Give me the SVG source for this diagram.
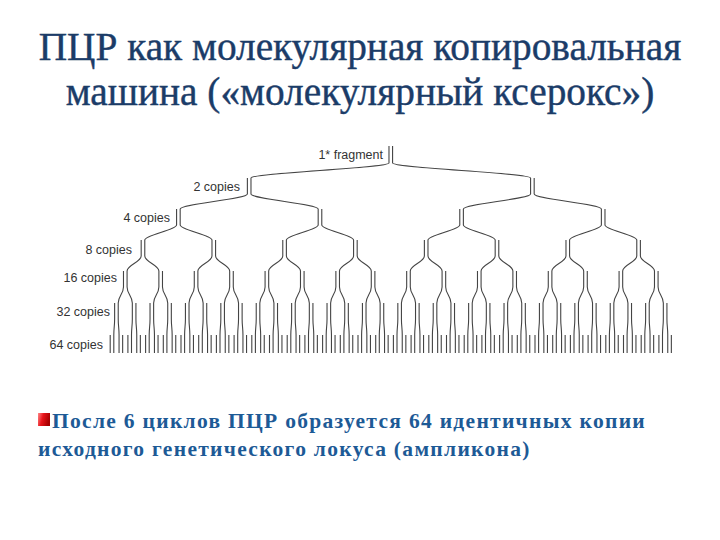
<svg xmlns="http://www.w3.org/2000/svg" xmlns:xlink="http://www.w3.org/1999/xlink" width="720" height="540" viewBox="0 0 720 540">
<style>
.t{font-family:"Liberation Serif","Times New Roman",serif;fill:#1b3c68;stroke:#1b3c68;stroke-width:0.4;font-size:39.3px;text-anchor:middle}
.lb{font-family:"Liberation Sans",Arial,sans-serif;fill:#333;font-size:12.5px;text-anchor:end}
.bt{font-family:"Liberation Serif","Times New Roman",serif;fill:#1d5a96;font-size:21.5px;font-weight:bold;letter-spacing:1.3px}
.s{fill:none;stroke:#444;stroke-width:1.1}
</style>
<defs>
<linearGradient id="bul" x1="0" y1="0" x2="1" y2="0.3">
<stop offset="0" stop-color="#ff8a8a"/><stop offset="0.45" stop-color="#e8141b"/><stop offset="1" stop-color="#a80000"/>
</linearGradient>
<path id="b0" class="s" d="M-1.8 146V163M1.8 146V163"/>
<path id="b1" class="s" d="M-1.8 178V194M1.8 178V194"/>
<path id="b2" class="s" d="M-1.8 209V225M1.8 209V225"/>
<path id="b3" class="s" d="M-1.8 240V256M1.8 240V256"/>
<path id="b4" class="s" d="M-1.8 271V287M1.8 271V287"/>
<path id="b5" class="s" d="M-1.8 303V319M1.8 303V319"/>
<path id="b6" class="s" d="M-1.8 335V353M1.8 335V353"/>
<path id="c0" class="s" d="M-1.8 163C-1.8 168 -139.8 173 -139.8 178M1.8 163C1.8 168 139.8 173 139.8 178"/>
<path id="c1" class="s" d="M-1.8 194C-1.8 199 -69 204 -69 209M1.8 194C1.8 199 69 204 69 209"/>
<path id="c2" class="s" d="M-1.8 225C-1.8 230 -33.6 235 -33.6 240M1.8 225C1.8 230 33.6 235 33.6 240"/>
<path id="c3" class="s" d="M-1.8 256C-1.8 262 -15.9 265 -15.9 271M1.8 256C1.8 262 15.9 265 15.9 271"/>
<path id="c4" class="s" d="M-1.8 287C-1.8 294 -7.05 296 -7.05 303M1.8 287C1.8 294 7.05 296 7.05 303"/>
<path id="c5" class="s" d="M-1.8 319C-1.8 326 -2.63 328 -2.63 335M1.8 319C1.8 326 2.63 328 2.63 335"/>
</defs>
<rect width="720" height="540" fill="#fff"/>
<g id="title">
<text class="t" x="360" y="60">ПЦР как молекулярная копировальная</text>
<text class="t" x="360" y="105">машина («молекулярный ксерокс»)</text>
</g>
<g id="labels">
<text class="lb" x="383" y="159">1* fragment</text>
<text class="lb" x="240" y="191">2 copies</text>
<text class="lb" x="170" y="222">4 copies</text>
<text class="lb" x="132" y="254">8 copies</text>
<text class="lb" x="117" y="282">16 copies</text>
<text class="lb" x="110" y="316">32 copies</text>
<text class="lb" x="103" y="349">64 copies</text>
</g>
<g id="connectors">
<use xlink:href="#c0" x="390.78"/>
<use xlink:href="#c1" x="249.18"/><use xlink:href="#c1" x="532.38"/>
<use xlink:href="#c2" x="178.38"/><use xlink:href="#c2" x="319.98"/><use xlink:href="#c2" x="461.58"/><use xlink:href="#c2" x="603.18"/>
<use xlink:href="#c3" x="142.98"/><use xlink:href="#c3" x="213.78"/><use xlink:href="#c3" x="284.58"/><use xlink:href="#c3" x="355.38"/><use xlink:href="#c3" x="426.18"/><use xlink:href="#c3" x="496.98"/><use xlink:href="#c3" x="567.78"/><use xlink:href="#c3" x="638.58"/>
<use xlink:href="#c4" x="125.28"/><use xlink:href="#c4" x="160.68"/><use xlink:href="#c4" x="196.08"/><use xlink:href="#c4" x="231.48"/><use xlink:href="#c4" x="266.88"/><use xlink:href="#c4" x="302.28"/><use xlink:href="#c4" x="337.68"/><use xlink:href="#c4" x="373.08"/><use xlink:href="#c4" x="408.48"/><use xlink:href="#c4" x="443.88"/><use xlink:href="#c4" x="479.28"/><use xlink:href="#c4" x="514.68"/><use xlink:href="#c4" x="550.08"/><use xlink:href="#c4" x="585.48"/><use xlink:href="#c4" x="620.88"/><use xlink:href="#c4" x="656.28"/>
<use xlink:href="#c5" x="116.43"/><use xlink:href="#c5" x="134.13"/><use xlink:href="#c5" x="151.83"/><use xlink:href="#c5" x="169.53"/><use xlink:href="#c5" x="187.23"/><use xlink:href="#c5" x="204.93"/><use xlink:href="#c5" x="222.63"/><use xlink:href="#c5" x="240.33"/><use xlink:href="#c5" x="258.03"/><use xlink:href="#c5" x="275.73"/><use xlink:href="#c5" x="293.43"/><use xlink:href="#c5" x="311.13"/><use xlink:href="#c5" x="328.83"/><use xlink:href="#c5" x="346.53"/><use xlink:href="#c5" x="364.23"/><use xlink:href="#c5" x="381.93"/><use xlink:href="#c5" x="399.63"/><use xlink:href="#c5" x="417.33"/><use xlink:href="#c5" x="435.03"/><use xlink:href="#c5" x="452.73"/><use xlink:href="#c5" x="470.43"/><use xlink:href="#c5" x="488.13"/><use xlink:href="#c5" x="505.83"/><use xlink:href="#c5" x="523.53"/><use xlink:href="#c5" x="541.23"/><use xlink:href="#c5" x="558.93"/><use xlink:href="#c5" x="576.63"/><use xlink:href="#c5" x="594.33"/><use xlink:href="#c5" x="612.03"/><use xlink:href="#c5" x="629.73"/><use xlink:href="#c5" x="647.43"/><use xlink:href="#c5" x="665.13"/>
</g>
<g id="nodes">
<g id="level0"><use id="n0-0" xlink:href="#b0" x="390.78"/></g>
<g id="level1"><use id="n1-0" xlink:href="#b1" x="249.18"/><use id="n1-1" xlink:href="#b1" x="532.38"/></g>
<g id="level2"><use id="n2-0" xlink:href="#b2" x="178.38"/><use id="n2-1" xlink:href="#b2" x="319.98"/><use id="n2-2" xlink:href="#b2" x="461.58"/><use id="n2-3" xlink:href="#b2" x="603.18"/></g>
<g id="level3"><use id="n3-0" xlink:href="#b3" x="142.98"/><use id="n3-1" xlink:href="#b3" x="213.78"/><use id="n3-2" xlink:href="#b3" x="284.58"/><use id="n3-3" xlink:href="#b3" x="355.38"/><use id="n3-4" xlink:href="#b3" x="426.18"/><use id="n3-5" xlink:href="#b3" x="496.98"/><use id="n3-6" xlink:href="#b3" x="567.78"/><use id="n3-7" xlink:href="#b3" x="638.58"/></g>
<g id="level4"><use id="n4-0" xlink:href="#b4" x="125.28"/><use id="n4-1" xlink:href="#b4" x="160.68"/><use id="n4-2" xlink:href="#b4" x="196.08"/><use id="n4-3" xlink:href="#b4" x="231.48"/><use id="n4-4" xlink:href="#b4" x="266.88"/><use id="n4-5" xlink:href="#b4" x="302.28"/><use id="n4-6" xlink:href="#b4" x="337.68"/><use id="n4-7" xlink:href="#b4" x="373.08"/><use id="n4-8" xlink:href="#b4" x="408.48"/><use id="n4-9" xlink:href="#b4" x="443.88"/><use id="n4-10" xlink:href="#b4" x="479.28"/><use id="n4-11" xlink:href="#b4" x="514.68"/><use id="n4-12" xlink:href="#b4" x="550.08"/><use id="n4-13" xlink:href="#b4" x="585.48"/><use id="n4-14" xlink:href="#b4" x="620.88"/><use id="n4-15" xlink:href="#b4" x="656.28"/></g>
<g id="level5"><use id="n5-0" xlink:href="#b5" x="116.43"/><use id="n5-1" xlink:href="#b5" x="134.13"/><use id="n5-2" xlink:href="#b5" x="151.83"/><use id="n5-3" xlink:href="#b5" x="169.53"/><use id="n5-4" xlink:href="#b5" x="187.23"/><use id="n5-5" xlink:href="#b5" x="204.93"/><use id="n5-6" xlink:href="#b5" x="222.63"/><use id="n5-7" xlink:href="#b5" x="240.33"/><use id="n5-8" xlink:href="#b5" x="258.03"/><use id="n5-9" xlink:href="#b5" x="275.73"/><use id="n5-10" xlink:href="#b5" x="293.43"/><use id="n5-11" xlink:href="#b5" x="311.13"/><use id="n5-12" xlink:href="#b5" x="328.83"/><use id="n5-13" xlink:href="#b5" x="346.53"/><use id="n5-14" xlink:href="#b5" x="364.23"/><use id="n5-15" xlink:href="#b5" x="381.93"/><use id="n5-16" xlink:href="#b5" x="399.63"/><use id="n5-17" xlink:href="#b5" x="417.33"/><use id="n5-18" xlink:href="#b5" x="435.03"/><use id="n5-19" xlink:href="#b5" x="452.73"/><use id="n5-20" xlink:href="#b5" x="470.43"/><use id="n5-21" xlink:href="#b5" x="488.13"/><use id="n5-22" xlink:href="#b5" x="505.83"/><use id="n5-23" xlink:href="#b5" x="523.53"/><use id="n5-24" xlink:href="#b5" x="541.23"/><use id="n5-25" xlink:href="#b5" x="558.93"/><use id="n5-26" xlink:href="#b5" x="576.63"/><use id="n5-27" xlink:href="#b5" x="594.33"/><use id="n5-28" xlink:href="#b5" x="612.03"/><use id="n5-29" xlink:href="#b5" x="629.73"/><use id="n5-30" xlink:href="#b5" x="647.43"/><use id="n5-31" xlink:href="#b5" x="665.13"/></g>
<g id="level6"><use id="n6-0" xlink:href="#b6" x="112"/><use id="n6-1" xlink:href="#b6" x="120.85"/><use id="n6-2" xlink:href="#b6" x="129.7"/><use id="n6-3" xlink:href="#b6" x="138.55"/><use id="n6-4" xlink:href="#b6" x="147.4"/><use id="n6-5" xlink:href="#b6" x="156.25"/><use id="n6-6" xlink:href="#b6" x="165.1"/><use id="n6-7" xlink:href="#b6" x="173.95"/><use id="n6-8" xlink:href="#b6" x="182.8"/><use id="n6-9" xlink:href="#b6" x="191.65"/><use id="n6-10" xlink:href="#b6" x="200.5"/><use id="n6-11" xlink:href="#b6" x="209.35"/><use id="n6-12" xlink:href="#b6" x="218.2"/><use id="n6-13" xlink:href="#b6" x="227.05"/><use id="n6-14" xlink:href="#b6" x="235.9"/><use id="n6-15" xlink:href="#b6" x="244.75"/><use id="n6-16" xlink:href="#b6" x="253.6"/><use id="n6-17" xlink:href="#b6" x="262.45"/><use id="n6-18" xlink:href="#b6" x="271.3"/><use id="n6-19" xlink:href="#b6" x="280.15"/><use id="n6-20" xlink:href="#b6" x="289"/><use id="n6-21" xlink:href="#b6" x="297.85"/><use id="n6-22" xlink:href="#b6" x="306.7"/><use id="n6-23" xlink:href="#b6" x="315.55"/><use id="n6-24" xlink:href="#b6" x="324.4"/><use id="n6-25" xlink:href="#b6" x="333.25"/><use id="n6-26" xlink:href="#b6" x="342.1"/><use id="n6-27" xlink:href="#b6" x="350.95"/><use id="n6-28" xlink:href="#b6" x="359.8"/><use id="n6-29" xlink:href="#b6" x="368.65"/><use id="n6-30" xlink:href="#b6" x="377.5"/><use id="n6-31" xlink:href="#b6" x="386.35"/><use id="n6-32" xlink:href="#b6" x="395.2"/><use id="n6-33" xlink:href="#b6" x="404.05"/><use id="n6-34" xlink:href="#b6" x="412.9"/><use id="n6-35" xlink:href="#b6" x="421.75"/><use id="n6-36" xlink:href="#b6" x="430.6"/><use id="n6-37" xlink:href="#b6" x="439.45"/><use id="n6-38" xlink:href="#b6" x="448.3"/><use id="n6-39" xlink:href="#b6" x="457.15"/><use id="n6-40" xlink:href="#b6" x="466"/><use id="n6-41" xlink:href="#b6" x="474.85"/><use id="n6-42" xlink:href="#b6" x="483.7"/><use id="n6-43" xlink:href="#b6" x="492.55"/><use id="n6-44" xlink:href="#b6" x="501.4"/><use id="n6-45" xlink:href="#b6" x="510.25"/><use id="n6-46" xlink:href="#b6" x="519.1"/><use id="n6-47" xlink:href="#b6" x="527.95"/><use id="n6-48" xlink:href="#b6" x="536.8"/><use id="n6-49" xlink:href="#b6" x="545.65"/><use id="n6-50" xlink:href="#b6" x="554.5"/><use id="n6-51" xlink:href="#b6" x="563.35"/><use id="n6-52" xlink:href="#b6" x="572.2"/><use id="n6-53" xlink:href="#b6" x="581.05"/><use id="n6-54" xlink:href="#b6" x="589.9"/><use id="n6-55" xlink:href="#b6" x="598.75"/><use id="n6-56" xlink:href="#b6" x="607.6"/><use id="n6-57" xlink:href="#b6" x="616.45"/><use id="n6-58" xlink:href="#b6" x="625.3"/><use id="n6-59" xlink:href="#b6" x="634.15"/><use id="n6-60" xlink:href="#b6" x="643"/><use id="n6-61" xlink:href="#b6" x="651.85"/><use id="n6-62" xlink:href="#b6" x="660.7"/><use id="n6-63" xlink:href="#b6" x="669.55"/></g>
</g>
<g id="caption">
<rect x="38" y="413" width="12" height="13" fill="url(#bul)"/>
<text class="bt" x="52" y="428">После 6 циклов ПЦР образуется 64 идентичных копии</text>
<text class="bt" x="38" y="456">исходного генетического локуса (ампликона)</text>
</g>
</svg>
